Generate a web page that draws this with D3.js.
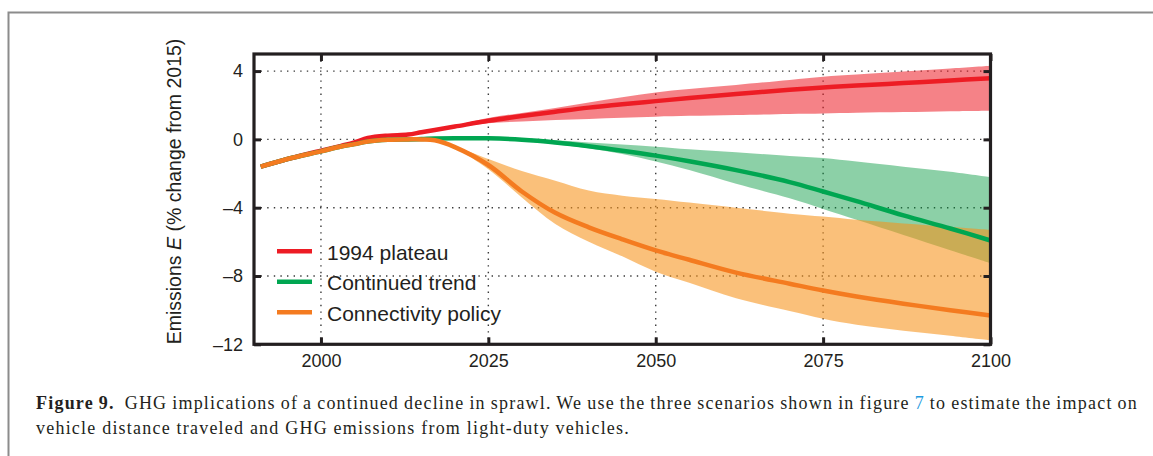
<!DOCTYPE html>
<html><head><meta charset="utf-8">
<script src="https://cdn.jsdelivr.net/npm/d3@7"></script>
<style>body{margin:0;background:#fff}svg{display:block}</style>
</head><body><svg id="c" width="1153" height="456"></svg>
<script>
// ---------- data ----------
const years = [1991,1995,2000,2003,2005,2007,2010,2013,2015,2017,2020,2025,2030,2035,2040,2045,2050,2055,2062,2070,2075,2080,2087,2094,2100];
const bandYears = [2015,2017,2020,2025,2030,2035,2040,2045,2050,2055,2062,2070,2075,2080,2087,2094,2100];

const plateau   = [-1.6,-1.15,-0.66,-0.38,-0.18,0.08,0.22,0.28,0.42,0.55,0.75,1.09,1.37,1.62,1.86,2.06,2.24,2.42,2.66,2.9,3.04,3.15,3.3,3.45,3.58];
const plateauHi = [0.42,0.55,0.8,1.25,1.55,1.84,2.16,2.46,2.75,2.95,3.19,3.48,3.67,3.8,3.98,4.15,4.31];
const plateauLo = [0.42,0.55,0.7,0.95,1.05,1.13,1.2,1.27,1.33,1.38,1.43,1.49,1.52,1.56,1.6,1.65,1.68];

const trend   = [-1.6,-1.15,-0.7,-0.42,-0.28,-0.12,-0.02,0.0,0.02,0.05,0.07,0.06,-0.02,-0.18,-0.4,-0.66,-0.95,-1.28,-1.8,-2.5,-3.05,-3.62,-4.45,-5.22,-5.92];
const trendHi = [0.02,0.05,0.09,0.09,0.05,-0.05,-0.18,-0.3,-0.43,-0.58,-0.76,-0.97,-1.09,-1.3,-1.6,-1.9,-2.22];
const trendLo = [0.02,0.05,0.05,0.02,-0.1,-0.28,-0.52,-0.86,-1.29,-1.8,-2.6,-3.45,-4.07,-4.71,-5.6,-6.49,-7.25];

const policy   = [-1.6,-1.15,-0.7,-0.42,-0.28,-0.12,-0.02,0.0,0.0,-0.05,-0.45,-1.5,-3.05,-4.3,-5.15,-5.85,-6.5,-7.05,-7.8,-8.45,-8.85,-9.2,-9.62,-10.0,-10.31];
const policyHi = [0.0,-0.05,-0.4,-1.15,-1.85,-2.42,-3.0,-3.3,-3.49,-3.7,-4.0,-4.35,-4.52,-4.71,-4.92,-5.12,-5.3];
const policyLo = [0.0,-0.05,-0.5,-1.75,-3.4,-4.95,-6.0,-6.85,-7.75,-8.4,-9.3,-10.05,-10.5,-10.85,-11.2,-11.5,-11.77];

const seriesNames = ["1994 plateau","Continued trend","Connectivity policy"];
const xTicks = [2000,2025,2050,2075,2100];
const yTicks = [4,0,-4,-8,-12];
const gridX = [2000,2025,2050,2075];
const gridY = [4,0,-4,-8];

// ---------- drawing ----------
const W = 1153, H = 456;
const svg = d3.select("#c");
const m = {l:254, r:990.5, t:54, b:344.3};
const x = d3.scaleLinear().domain([1990,2100]).range([m.l,m.r]);
const y = d3.scaleLinear().domain([-12,5]).range([m.b,m.t]);
const ink = "#231f20";
const sans = "'Liberation Sans', Arial, Helvetica, sans-serif";
const curve = d3.curveCatmullRom.alpha(0.5);

const series = [
  {name:seriesNames[0], line:plateau, hi:plateauHi, lo:plateauLo, color:"#ed1c24", band:"#ed1c24", op:0.55},
  {name:seriesNames[1], line:trend,   hi:trendHi,   lo:trendLo,   color:"#00a651", band:"#00963c", op:0.45},
  {name:seriesNames[2], line:policy,  hi:policyHi,  lo:policyLo,  color:"#f47b20", band:"#f7921a", op:0.58}
];

// outer figure frame
svg.append("path").attr("d",`M8.5,${H} V12.5 H${W}`)
  .attr("fill","none").attr("stroke","#8c8c8c").attr("stroke-width",2);

// grid
const grid = svg.append("g").attr("stroke","#3a3a3a").attr("stroke-width",1.4)
  .attr("stroke-dasharray","1.4,5.2");
grid.selectAll("line.gx").data(gridX).join("line").attr("class","gx")
  .attr("x1",d=>x(d)).attr("x2",d=>x(d)).attr("y1",m.t).attr("y2",m.b);
grid.selectAll("line.gy").data(gridY).join("line").attr("class","gy")
  .attr("x1",m.l).attr("x2",m.r).attr("y1",d=>y(d)).attr("y2",d=>y(d));

// bands
const area = d3.area().x(d=>x(d.t)).y0(d=>y(d.lo)).y1(d=>y(d.hi)).curve(curve);
svg.append("g").selectAll("path").data(series).join("path")
  .attr("d",s=>area(bandYears.map((t,i)=>({t,lo:s.lo[i],hi:s.hi[i]}))))
  .attr("fill",s=>s.band).attr("fill-opacity",s=>s.op);

// lines
const line = d3.line().x(d=>x(d.t)).y(d=>y(d.v)).curve(curve);
svg.append("g").selectAll("path").data(series).join("path")
  .attr("d",s=>line(years.map((t,i)=>({t,v:s.line[i]}))))
  .attr("fill","none").attr("stroke",s=>s.color).attr("stroke-width",4.5)
  .attr("stroke-linejoin","round");

// axes
function styleAxis(g){
  g.attr("font-family",sans).attr("font-size",18).attr("color",ink);
  g.select(".domain").remove();
  g.selectAll(".tick line").attr("stroke-width",3);
  g.selectAll(".tick text").attr("fill",ink);
}
const minus = d => d<0 ? "\u2013"+Math.abs(d) : String(d);
svg.append("g").attr("transform",`translate(0,${m.b})`)
  .call(d3.axisBottom(x).tickValues(xTicks).tickSizeInner(-7).tickSizeOuter(0).tickPadding(10).tickFormat(d3.format("d")))
  .call(styleAxis);
svg.append("g").attr("transform",`translate(0,${m.t})`)
  .call(d3.axisTop(x).tickValues(xTicks).tickSizeInner(-7).tickSizeOuter(0).tickFormat(""))
  .call(styleAxis);
svg.append("g").attr("transform",`translate(${m.l},0)`)
  .call(d3.axisLeft(y).tickValues(yTicks).tickSizeInner(-7).tickSizeOuter(0).tickPadding(11).tickFormat(minus))
  .call(styleAxis);
svg.append("g").attr("transform",`translate(${m.r},0)`)
  .call(d3.axisRight(y).tickValues(yTicks).tickSizeInner(-7).tickSizeOuter(0).tickFormat(""))
  .call(styleAxis);
svg.append("rect").attr("x",m.l).attr("y",m.t).attr("width",m.r-m.l).attr("height",m.b-m.t)
  .attr("fill","none").attr("stroke",ink).attr("stroke-width",3.2);

// y label
const yl = svg.append("text").attr("transform","translate(181,191.5) rotate(-90)")
  .attr("text-anchor","middle").attr("font-family",sans).attr("font-size",19.5).attr("fill",ink);
yl.append("tspan").text("Emissions ");
yl.append("tspan").attr("font-style","italic").text("E");
yl.append("tspan").text(" (% change from 2015)");

// legend
const lg = svg.append("g").selectAll("g").data(series).join("g")
  .attr("transform",(s,i)=>`translate(0,${259.8+i*30.5})`);
lg.append("line").attr("x1",277).attr("x2",312).attr("y1",-8.5).attr("y2",-8.5)
  .attr("stroke",s=>s.color).attr("stroke-width",4.5);
lg.append("text").attr("x",327).attr("y",0).attr("font-family",sans).attr("font-size",21)
  .attr("fill",ink).text(s=>s.name);

// caption
const serif = "'Liberation Serif', 'Times New Roman', serif";
const c1 = svg.append("text").attr("x",36).attr("y",409).attr("font-family",serif)
  .attr("font-size",18).attr("fill",ink).style("white-space","pre");
c1.append("tspan").attr("font-weight","bold").text("Figure 9.");
c1.append("tspan").text("  GHG implications of a continued decline in sprawl. We use the three scenarios shown in figure ");
c1.append("tspan").attr("fill","#1f9ae0").text("7");
c1.append("tspan").text(" to estimate the impact on");
const c2 = svg.append("text").attr("x",36).attr("y",434).attr("font-family",serif)
  .attr("font-size",18).attr("fill",ink).style("white-space","pre")
  .text("vehicle distance traveled and GHG emissions from light-duty vehicles.");

// fit caption widths (line 2 natural, line 1 justified)
const s2 = c2.text();
const n2 = c2.node().getComputedTextLength();
const ls = Math.max(0, (594 - n2) / s2.length);
c2.attr("letter-spacing", ls);
c1.attr("letter-spacing", ls);
const s1 = c1.text();
const n1 = c1.node().getComputedTextLength();
const spaces = (s1.match(/ /g)||[]).length;
c1.attr("word-spacing", (1102 - n1) / spaces);
</script></body></html>
